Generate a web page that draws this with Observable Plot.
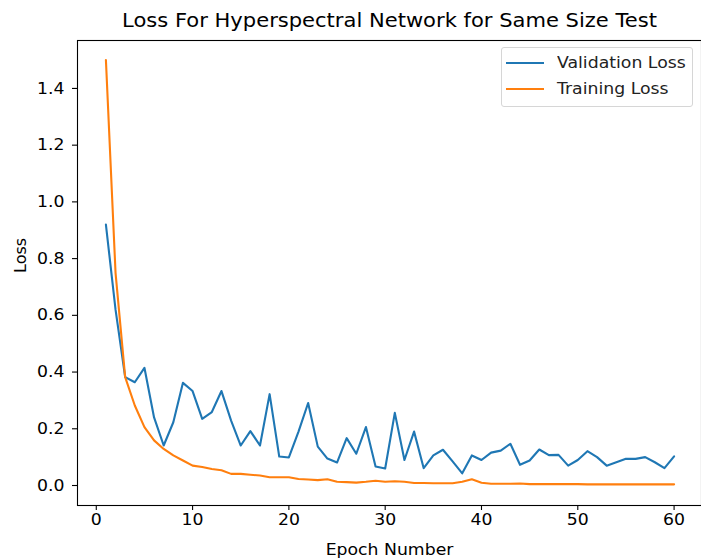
<!DOCTYPE html>
<html>
<head>
<meta charset="utf-8">
<script src="https://cdn.jsdelivr.net/npm/d3@7"></script>
<script src="https://cdn.jsdelivr.net/npm/@observablehq/plot@0.6"></script>
<style>
  html, body { margin: 0; padding: 0; background: #fff; }
  #wrap { position: relative; width: 701px; height: 560px; overflow: hidden; font-family: "DejaVu Sans", sans-serif; }
  #legend { position: absolute; left: 501px; top: 47px; width: 190px; height: 58px; border: 1px solid #d6d6d6; border-radius: 3px; background: rgba(255,255,255,0.8); font-size: 16px; color: #222; }
  .row { position: absolute; left: 0; height: 20px; line-height: 20px; }
  .sw { position: absolute; left: 4px; top: 9px; width: 38px; height: 2px; }
  .lab { position: absolute; left: 55px; top: 0; white-space: nowrap; transform: scaleX(1.08); transform-origin: left center; }
</style>
</head>
<body>
<div id="wrap">
  <div id="chart"></div>
  <div id="legend"></div>
</div>
<script>
const epochs = [1,2,3,4,5,6,7,8,9,10,11,12,13,14,15,16,17,18,19,20,21,22,23,24,25,26,27,28,29,30,31,32,33,34,35,36,37,38,39,40,41,42,43,44,45,46,47,48,49,50,51,52,53,54,55,56,57,58,59,60];
const validationLoss = [0.92,0.62,0.382,0.364,0.415,0.24,0.141,0.223,0.362,0.333,0.235,0.259,0.333,0.229,0.141,0.192,0.141,0.322,0.102,0.099,0.19,0.291,0.137,0.095,0.081,0.167,0.112,0.206,0.067,0.06,0.256,0.09,0.19,0.061,0.106,0.126,0.085,0.043,0.106,0.09,0.116,0.123,0.147,0.073,0.088,0.127,0.107,0.108,0.07,0.09,0.121,0.1,0.07,0.082,0.094,0.094,0.1,0.082,0.061,0.103];
const trainingLoss = [1.50,0.75,0.382,0.282,0.206,0.159,0.129,0.106,0.088,0.07,0.065,0.058,0.054,0.041,0.041,0.038,0.035,0.029,0.029,0.029,0.023,0.021,0.019,0.022,0.013,0.012,0.01,0.013,0.017,0.013,0.015,0.013,0.009,0.009,0.008,0.008,0.008,0.013,0.022,0.01,0.006,0.006,0.006,0.007,0.005,0.005,0.005,0.005,0.005,0.005,0.004,0.004,0.004,0.004,0.004,0.004,0.004,0.004,0.004,0.004];
const seriesNames = ["Validation Loss", "Training Loss"];
const seriesColors = ["#1f77b4", "#ff7f0e"];
const xTicks = [0,10,20,30,40,50,60];
const yTicks = [0.0,0.2,0.4,0.6,0.8,1.0,1.2,1.4];
const titleText = "Loss For Hyperspectral Network for Same Size Test";
const xLabel = "Epoch Number";
const yLabel = "Loss";

const valData = epochs.map((e, i) => ({epoch: e, loss: validationLoss[i]}));
const trainData = epochs.map((e, i) => ({epoch: e, loss: trainingLoss[i]}));

const font = "DejaVu Sans, sans-serif";
const chart = Plot.plot({
  width: 701,
  height: 560,
  marginLeft: 77,
  marginRight: 0,
  marginTop: 40,
  marginBottom: 55,
  style: {fontFamily: font, fontSize: "16px", color: "#000", background: "#fff", overflow: "visible"},
  x: {domain: [-1.95, 62.95], range: [77, 702], ticks: xTicks, label: null},
  y: {domain: [-0.0705, 1.569], ticks: yTicks, tickFormat: d3.format(".1f"), label: null},
  marks: [
    Plot.frame({stroke: "#000", strokeWidth: 1.1}),
    Plot.axisX({ticks: xTicks, tickSize: 5, tickPadding: 3, fontSize: 16, label: null, stroke: "#000", strokeWidth: 1.1}),
    Plot.axisY({ticks: yTicks, tickFormat: d3.format(".1f"), tickSize: 5, tickPadding: 8, fontSize: 16, label: null, stroke: "#000", strokeWidth: 1.1}),
    Plot.line(valData, {x: "epoch", y: "loss", stroke: seriesColors[0], strokeWidth: 2.1}),
    Plot.line(trainData, {x: "epoch", y: "loss", stroke: seriesColors[1], strokeWidth: 2.1}),
    Plot.text([titleText], {frameAnchor: "top", dy: -20, text: d => d, fontSize: 19.5, lineAnchor: "middle", fill: "#000"}),
    Plot.text([xLabel], {frameAnchor: "bottom", dy: 44, text: d => d, fontSize: 16, lineAnchor: "middle", fill: "#000"}),
    Plot.text([yLabel], {frameAnchor: "left", dx: -57, text: d => d, fontSize: 16, rotate: -90, lineAnchor: "middle", fill: "#000"})
  ]
});
// widen horizontal text slightly to match the reference's glyph proportions
chart.querySelectorAll("text").forEach(t => {
  const tr = t.getAttribute("transform") || "";
  if (tr.includes("rotate")) return;
  const x = parseFloat(t.getAttribute("x")) || 0;
  t.setAttribute("transform", `${tr} translate(${x},0) scale(1.08,1) translate(${-x},0)`.trim());
});
document.getElementById("chart").appendChild(chart);

const legend = document.getElementById("legend");
seriesNames.forEach((name, i) => {
  const row = document.createElement("div");
  row.className = "row";
  row.style.top = (5 + i * 26) + "px";
  row.style.width = "100%";
  const sw = document.createElement("div");
  sw.className = "sw";
  sw.style.background = seriesColors[i];
  const lab = document.createElement("div");
  lab.className = "lab";
  lab.textContent = name;
  row.appendChild(sw);
  row.appendChild(lab);
  legend.appendChild(row);
});
</script>
</body>
</html>
